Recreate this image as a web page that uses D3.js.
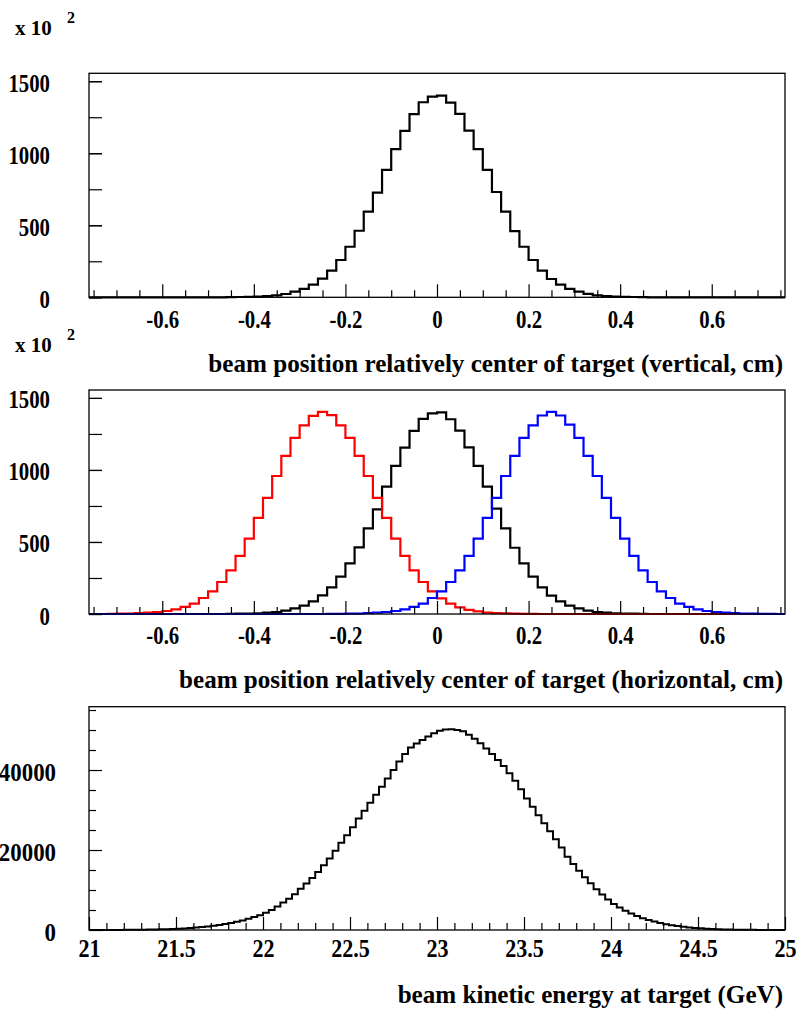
<!DOCTYPE html>
<html><head><meta charset="utf-8">
<script src="https://cdn.jsdelivr.net/npm/d3@7"></script>
<style>
body{margin:0;background:#fff}
svg{display:block}
text{font-family:"Liberation Serif","Times New Roman",serif;font-weight:bold;fill:#000}
</style>
</head><body><svg id="c" width="798" height="1011"></svg>
<script>
// ---------------- data ----------------
const posBinLow = -0.76, posBinWidth = 0.02;           // 76 bins, -0.76 .. 0.76
const verticalBlack = [0,0,0,0,0,0,0,0,0,0, 0,0,0,0,0,1,2,3,5,9,
  14,23,39,58,88,129,185,259,351,462, 595,727,884,1028,1155,1271,1354,1393,1400,1352,
  1273,1157,1028,884,731,595,460,351,259,185, 127,88,58,39,24,14,9,5,3,2,
  1,0,0,0,0,0, 0,0,0,0,0,0,0,0,0,0];
const horizontalBlack = [0,0,0,0,0,0,0,0,0,0, 0,0,0,0,0,1,2,3,5,9,
  14,23,39,58,88,129,185,259,351,462, 595,727,884,1028,1155,1271,1354,1393,1400,1352,
  1273,1157,1028,884,731,595,460,351,259,185, 127,88,58,39,24,14,9,5,3,2,
  1,0,0,0,0,0, 0,0,0,0,0,0,0,0,0,0];
const horizontalRed = [0,0,1,2,3,6,9,14,21,32,
  49,72,111,157,222,303,403,523,667,806,
  958,1098,1222,1310,1375,1403,1380,1310,1222,1098,
  958,806,667,523,403,303,222,157,108,72,
  46,29,18,10,6,4,2,1,1,0,
  0,0,0,0,0,0,0,0,0,0, 0,0,0,0,0,0,0,0,0,0, 0,0,0,0,0,0];
const horizontalBlue = [0,0,0,0,0,0,0,0,0,0, 0,0,0,0,0,0,0,0,0,0, 0,0,0,0,0,0,
  1,1,2,3,
  6,9,14,21,32,49,72,111,157,222,
  303,403,523,667,806,958,1098,1222,1310,1378,
  1403,1378,1315,1222,1098,958,806,667,523,403,
  303,222,157,111,72,49,32,21,14,9,
  6,3,2,1,1,0];
const energyBinLow = 21, energyBinWidth = 4 / 120;       // 120 bins, 21 .. 25 GeV
const energyCounts = [6,8,11,15,20,27,36,47,61,79,
  101,129,163,205,257,320,395,486,594,722,
  872,1047,1250,1484,1752,2057,2403,2793,3230,3718,
  4300,5000,5900,6850,7800,8950,10300,11600,13000,14500,
  16200,17850,19800,21800,23700,25700,27900,29800,31800,33800,
  35800,37900,40000,42100,44000,45600,46600,47500,48400,49200,
  49800,50100,50200,50000,49700,48800,47800,46700,45400,44000,
  42500,41000,39200,37300,35200,32900,30800,28700,26700,24700,
  22700,20600,18300,16500,14800,13200,11700,10200,8900,7600,
  6500,5600,4800,4100,3500,2950,2500,2100,1750,1450,
  1200,980,800,650,520,415,330,260,200,155,
  120,92,70,53,40,30,22,16,12,8];

const posMajorTicks = [-0.6,-0.4,-0.2,0,0.2,0.4,0.6];
const posTickLabels = ["-0.6","-0.4","-0.2","0","0.2","0.4","0.6"];
const posMinorTicks = [-0.75,-0.7,-0.65,-0.55,-0.5,-0.45,-0.35,-0.3,-0.25,-0.15,-0.1,-0.05,
  0.05,0.1,0.15,0.25,0.3,0.35,0.45,0.5,0.55,0.65,0.7,0.75];
const countTicks = [0,250,500,750,1000,1250,1500];
const countLabelTicks = [0,500,1000,1500];
const countTickLabels = ["0","500","1000","1500"];
const energyMajorTicks = [21,21.5,22,22.5,23,23.5,24,24.5,25];
const energyTickLabels = ["21","21.5","22","22.5","23","23.5","24","24.5","25"];
const energyMinorTicks = [21.1,21.2,21.3,21.4,21.6,21.7,21.8,21.9,22.1,22.2,22.3,22.4,22.6,22.7,22.8,22.9,
  23.1,23.2,23.3,23.4,23.6,23.7,23.8,23.9,24.1,24.2,24.3,24.4,24.6,24.7,24.8,24.9];
const eventMajorTicks = [0,20000,40000];
const eventTickLabels = ["0","20000","40000"];
const eventMinorTicks = [5000,10000,15000,25000,30000,35000,45000,50000,55000];

const titles = ["beam position relatively center of target (vertical, cm)",
                "beam position relatively center of target (horizontal, cm)",
                "beam kinetic energy at target (GeV)"];

// ---------------- drawing ----------------
const svg = d3.select("#c");
const L = 89, R = 785;
const LBL = 26;

function histPath(x, y, low, w, vals) {
  const pts = [];
  vals.forEach((v, i) => { pts.push([low + i * w, v]); pts.push([low + (i + 1) * w, v]); });
  return d3.line().x(d => x(d[0])).y(d => y(d[1]))(pts);
}

function panel(cfg) {
  const g = svg.append("g");
  const x = d3.scaleLinear().domain(cfg.xDomain).range([L, R]);
  const y = d3.scaleLinear().domain(cfg.yDomain).range([cfg.bottom, cfg.top]);

  cfg.series.forEach(s => {
    g.append("path").attr("d", histPath(x, y, cfg.binLow, cfg.binWidth, s.values))
      .attr("fill", "none").attr("stroke", s.color).attr("stroke-width", cfg.lw)
      .attr("stroke-linejoin", "miter");
  });

  const xm = g.append("g").attr("transform", `translate(0,${cfg.bottom})`)
    .call(d3.axisBottom(x).tickValues(cfg.xMinor).tickSize(-7).tickFormat(""));
  const xM = g.append("g").attr("transform", `translate(0,${cfg.bottom})`)
    .call(d3.axisBottom(x).tickValues(cfg.xMajor).tickSize(-13)
      .tickFormat((d, i) => cfg.xLabels[i]));
  const ym = g.append("g").attr("transform", `translate(${L},0)`)
    .call(d3.axisLeft(y).tickValues(cfg.yMinor).tickSize(-cfg.yMinorLen).tickFormat(""));
  const yM = g.append("g").attr("transform", `translate(${L},0)`)
    .call(d3.axisLeft(y).tickValues(cfg.yMajor).tickSize(-13)
      .tickFormat((d, i) => cfg.yLabels[i]));

  [xm, xM, ym, yM].forEach(a => {
    a.select(".domain").remove();
    a.selectAll("line").attr("stroke", "#000").attr("stroke-width", 1.2);
    a.attr("font-family", null).attr("font-size", null);
  });
  xM.selectAll("text").attr("y", cfg.xLabelDy).attr("dy", 0)
    .style("font-size", LBL + "px").attr("transform", `scale(${cfg.sx},1)`);
  yM.selectAll("text").attr("x", -(L - cfg.yLabelRight) / cfg.sy).attr("dy", 0).attr("y", 10)
    .attr("text-anchor", "end")
    .style("font-size", LBL + "px").attr("transform", `scale(${cfg.sy},1)`);

  g.append("rect").attr("x", L).attr("y", cfg.top).attr("width", R - L)
    .attr("height", cfg.bottom - cfg.top).attr("fill", "none")
    .attr("stroke", "#000").attr("stroke-width", 1.3);

  g.append("text").attr("x", 783).attr("y", cfg.titleY).attr("text-anchor", "end")
    .style("font-size", "25.1px").text(cfg.title);

  if (cfg.exp) {
    g.append("text").attr("x", 15).attr("y", cfg.expY).style("font-size", "21px").text("x 10");
    g.append("text").attr("x", 67).attr("y", cfg.expY - 12).style("font-size", "16px").text("2");
  }
}

panel({xDomain: [-0.76, 0.76], yDomain: [0, 1555], top: 73.3, bottom: 297.3,
  binLow: posBinLow, binWidth: posBinWidth, lw: 2.2, sx: 0.8, sy: 0.8,
  series: [{values: verticalBlack, color: "#000"}],
  xMinor: posMinorTicks, xMajor: posMajorTicks, xLabels: posTickLabels, xLabelDy: 31,
  yMinor: countTicks, yMinorLen: 13, yMajor: countLabelTicks, yLabels: countTickLabels, yLabelRight: 50,
  title: titles[0], titleY: 372, exp: true, expY: 35});

panel({xDomain: [-0.76, 0.76], yDomain: [0, 1555], top: 390, bottom: 614,
  binLow: posBinLow, binWidth: posBinWidth, lw: 2.2, sx: 0.8, sy: 0.8,
  series: [{values: horizontalBlack, color: "#000"}, {values: horizontalRed, color: "#ff0000"},
           {values: horizontalBlue, color: "#0000ff"}],
  xMinor: posMinorTicks, xMajor: posMajorTicks, xLabels: posTickLabels, xLabelDy: 30,
  yMinor: countTicks, yMinorLen: 13, yMajor: countLabelTicks, yLabels: countTickLabels, yLabelRight: 50,
  title: titles[1], titleY: 688, exp: true, expY: 352});

panel({xDomain: [21, 25], yDomain: [0, 55830], top: 706.7, bottom: 930,
  binLow: energyBinLow, binWidth: energyBinWidth, lw: 2, sx: 0.85, sy: 0.88,
  series: [{values: energyCounts, color: "#000"}],
  xMinor: energyMinorTicks, xMajor: energyMajorTicks, xLabels: energyTickLabels, xLabelDy: 27,
  yMinor: eventMinorTicks, yMinorLen: 7, yMajor: eventMajorTicks, yLabels: eventTickLabels, yLabelRight: 56,
  title: titles[2], titleY: 1003, exp: false});
</script>
</body></html>
